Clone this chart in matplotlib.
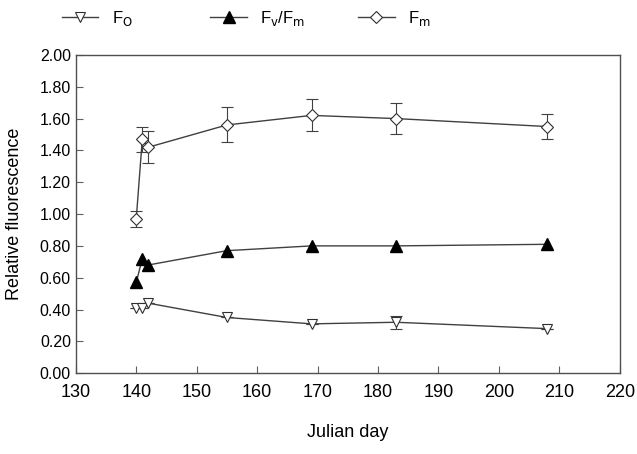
import matplotlib.pyplot as plt

plt.rcParams['font.family'] = ['Liberation Sans', 'DejaVu Sans']

# Julian day of each measurement
days = [140, 141, 142, 155, 169, 183, 208]

# Fo, Fv/Fm and Fm with standard error
fo = [0.41, 0.41, 0.44, 0.35, 0.31, 0.32, 0.28]
fo_err = [0.0, 0.0, 0.0, 0.0, 0.0, 0.04, 0.0]
fvfm = [0.57, 0.72, 0.68, 0.77, 0.80, 0.80, 0.81]
fvfm_err = [0.0, 0.0, 0.0, 0.0, 0.0, 0.0, 0.0]
fm = [0.97, 1.47, 1.42, 1.56, 1.62, 1.60, 1.55]
fm_err = [0.05, 0.08, 0.10, 0.11, 0.10, 0.10, 0.08]

yticks = [0.0, 0.2, 0.4, 0.6, 0.8, 1.0, 1.2, 1.4, 1.6, 1.8, 2.0]
xticks = [130, 140, 150, 160, 170, 180, 190, 200, 210, 220]

fig = plt.figure(figsize=(6.37, 4.54), dpi=100)
ax = fig.add_axes([0.119, 0.178, 0.854, 0.701])

lc = '#404040'
h1 = ax.errorbar(days, fo, yerr=fo_err, color=lc, lw=1, marker='v', ms=7,
                 mfc='white', mec='#303030', mew=0.8, ecolor=lc, elinewidth=0.8, capsize=4)
h2 = ax.errorbar(days, fvfm, yerr=fvfm_err, color=lc, lw=1, marker='^', ms=8,
                 mfc='black', mec='black', ecolor=lc, elinewidth=0.8, capsize=0)
h3 = ax.errorbar(days, fm, yerr=fm_err, color=lc, lw=1, marker='D', ms=6,
                 mfc='white', mec='#303030', mew=0.8, ecolor=lc, elinewidth=0.8, capsize=4)

ax.set_xlim(130, 220)
ax.set_ylim(0, 2.0)
ax.set_xticks(xticks)
ax.set_yticks(yticks)
ax.set_yticklabels(['%.2f' % v for v in yticks])
ax.tick_params(direction='in', length=5, width=0.8, color='#606060')
ax.tick_params(axis='x', labelsize=13, pad=8)
ax.tick_params(axis='y', labelsize=11.5)
for s in ax.spines.values():
    s.set_color('#505050')
    s.set_linewidth(1)

ax.set_xlabel('Julian day', fontsize=13, labelpad=16)
ax.set_ylabel('Relative fluorescence', fontsize=13, labelpad=12)

labels = ['F$_\\mathrm{O}$', 'F$_\\mathrm{v}$/F$_\\mathrm{m}$', 'F$_\\mathrm{m}$']
xs = [0.097, 0.33, 0.562]
for h, lab, x in zip([h1, h2, h3], labels, xs):
    fig.legend([h[0]], [lab], loc='center left', bbox_to_anchor=(x, 0.96),
               frameon=False, fontsize=12, handlelength=2.2, handletextpad=0.8,
               borderpad=0, borderaxespad=0)

fig.savefig('out.png', dpi=100)
